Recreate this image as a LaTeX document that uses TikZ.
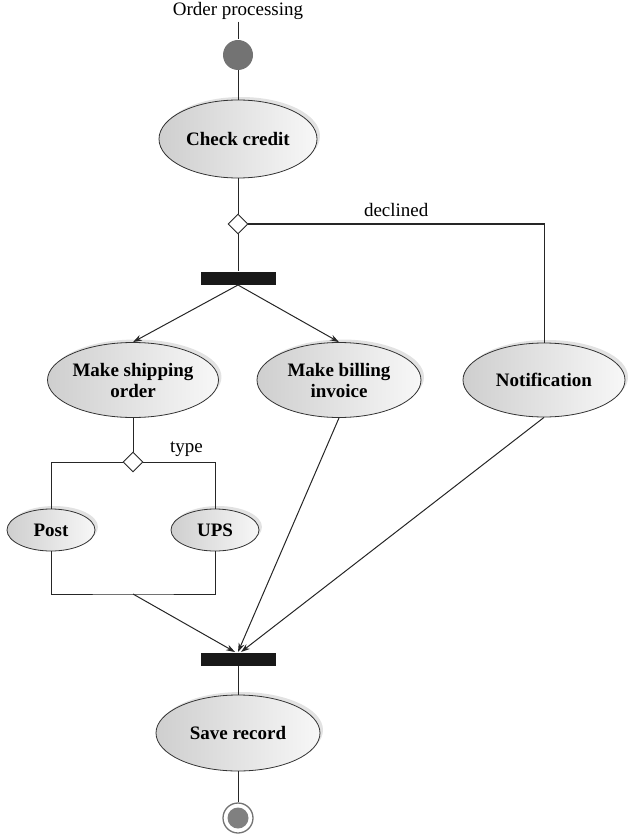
\documentclass[tikz,border=0pt]{standalone}
\usepackage{fontspec}
\setmainfont{Liberation Serif}
\usetikzlibrary{shapes.geometric,arrows.meta,shadows,positioning}

\tikzset{
  activity/.style={ellipse, draw=black!80, line width=0.8pt,
    left color=gray!38, right color=gray!6,
    drop shadow={shadow xshift=3pt, shadow yshift=3pt, fill=gray!45, opacity=.5},
    align=center, inner sep=0pt, font=\fontsize{19}{21}\selectfont\bfseries},
  choice/.style={diamond, draw=black!85, fill=white, line width=0.9pt,
    minimum width=20pt, minimum height=20pt, inner sep=0pt},
  syncbar/.style={rectangle, fill=black!90, minimum width=75pt,
    minimum height=13pt, inner sep=0pt},
  flow/.style={-{Stealth[length=9pt,width=6pt]}},
}

\begin{document}
\begin{tikzpicture}[x=1pt, y=-1pt, line width=1pt, draw=black!85,
  font=\fontsize{19}{21}\selectfont]
  \useasboundingbox (0,0) rectangle (628,834);

  \node[anchor=base, inner sep=1pt] (title) at (238,16) {Order processing};
  \node[circle, fill=black!55, minimum size=30pt, inner sep=0pt] (start) at (238,55) {};
  \node[activity, minimum width=158pt, minimum height=78pt] (check) at (238,139) {Check credit};
  \node[choice] (dec1) at (238,224) {};
  \node[syncbar] (fork) at (238,278) {};

  \node[activity, minimum width=163pt, minimum height=75pt] (ship) at (133,380) {Make shipping\\order};
  \node[activity, minimum width=164pt, minimum height=75pt] (bill) at (339,380) {Make billing\\invoice};
  \node[activity, minimum width=162pt, minimum height=74pt] (notif) at (544,380) {Notification};

  \node[choice] (dec2) at (133,462) {};
  \node[activity, minimum width=88pt, minimum height=42pt] (post) at (51,530) {Post};
  \node[activity, minimum width=88pt, minimum height=42pt] (ups) at (215,530) {UPS};
  \coordinate (merge) at (133,594);

  \node[syncbar] (join) at (238,659) {};
  \node[activity, minimum width=164pt, minimum height=76pt] (save) at (238,733) {Save record};
  \node[circle, draw=black!55, line width=1.3pt, fill=white, minimum size=30pt,
    inner sep=0pt, path picture={\fill[black!50] (path picture bounding box.center) circle (10.5pt);}]
    (end) at (238,818) {};

  % main line
  \draw (title) -- (start) -- (check) -- (dec1) -- (fork);
  \draw (dec1.east) -| (notif.north) node[pos=.25, above=3pt] {declined};
  \draw[flow] (fork.south) -- (ship.north);
  \draw[flow] (fork.south) -- (bill.north);

  % shipping type
  \draw (ship.south) -- (dec2.north);
  \draw (dec2.west) -| (post.north);
  \draw (dec2.east) -| (ups.north) node[pos=.3, above=2pt] {type};
  \draw (post.south) |- (merge) -| (ups.south);

  % joining
  \draw[flow] (merge) -- ([xshift=-3pt]join.north);
  \draw[flow] (bill.south) -- (join.north);
  \draw[flow] (notif.south) -- ([xshift=3pt]join.north);
  \draw (join) -- (save) -- (end);
\end{tikzpicture}
\end{document}
